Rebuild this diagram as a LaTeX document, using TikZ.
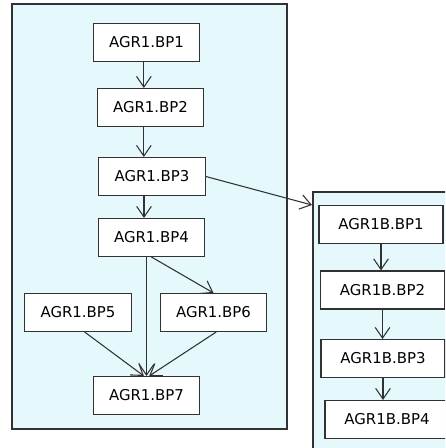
\documentclass[tikz,border=0pt]{standalone}
\usepackage{fontspec}
\setmainfont{DejaVu Sans}
\usetikzlibrary{arrows.meta}
\definecolor{grpfill}{RGB}{229,248,252}
\definecolor{lncol}{RGB}{50,50,50}

\begin{document}
\begin{tikzpicture}[x=0.75pt, y=-0.75pt,
    bp/.style={draw=lncol, fill=white, line width=0.8pt, minimum width=80pt, minimum height=28.5pt, inner sep=0pt, font=\fontsize{11.2}{13}\selectfont},
    bpb/.style={bp, minimum width=93pt},
    grp/.style={draw=lncol, fill=grpfill, line width=0.8pt},
    flow/.style={draw=lncol, line width=0.8pt, -{Straight Barb[length=8pt,width=11pt]}}]
                \clip (0,0) rectangle (445,448);
                \fill[white] (0,0) rectangle (445,448);
                % groups
                \draw[grp] (12,4) rectangle (287,429);
                \draw[grp] (313,192) rectangle (470,470);
                \coordinate (inB) at (312,205);
                % AGR1
                \node[bp] (BP1) at (146.5,42.5) {AGR1.BP1};
                \node[bp] (BP2) at (150.5,107.5) {AGR1.BP2};
                \node[bp] (BP3) at (152,176.5) {AGR1.BP3};
                \node[bp] (BP4) at (151.5,237.5) {AGR1.BP4};
                \node[bp] (BP5) at (78,312.5) {AGR1.BP5};
                \node[bp] (BP6) at (213.5,312.5) {AGR1.BP6};
                \node[bp] (BP7) at (146.5,395.5) {AGR1.BP7};
                % AGR1B
                \node[bpb] (B1) at (381,224.5) {AGR1B.BP1};
                \node[bpb] (B2) at (382.5,290) {AGR1B.BP2};
                \node[bpb] (B3) at (383,358.5) {AGR1B.BP3};
                \node[bpb] (B4) at (387,419.5) {AGR1B.BP4};
                % links
                \draw[flow] ([xshift=-2pt]BP1.south) -- ([xshift=-2pt]BP1.south |- BP2.north);
                \draw[flow] ([xshift=-5pt]BP2.south) -- ([xshift=-5pt]BP2.south |- BP3.north);
                \draw[flow] ([xshift=-6pt]BP3.south) -- ([xshift=-6pt]BP3.south |- BP4.north);
                \draw[flow] (BP4.south -| BP7) -- (BP7.north);
                \draw[flow] (BP4.south) -- (BP6.north);
                \draw[flow] ([xshift=5pt]BP5.south) -- ([xshift=-2pt]BP7.north);
                \draw[flow] ([xshift=2pt]BP6.south) -- ([xshift=2pt]BP7.north);
                \draw[flow] (BP3.east) -- (inB);
                \draw[flow] (B1.south) -- (B1.south |- B2.north);
                \draw[flow] (B2.south) -- (B2.south |- B3.north);
                \draw[flow] (B3.south) -- (B3.south |- B4.north);
            \end{tikzpicture}
\end{document}
